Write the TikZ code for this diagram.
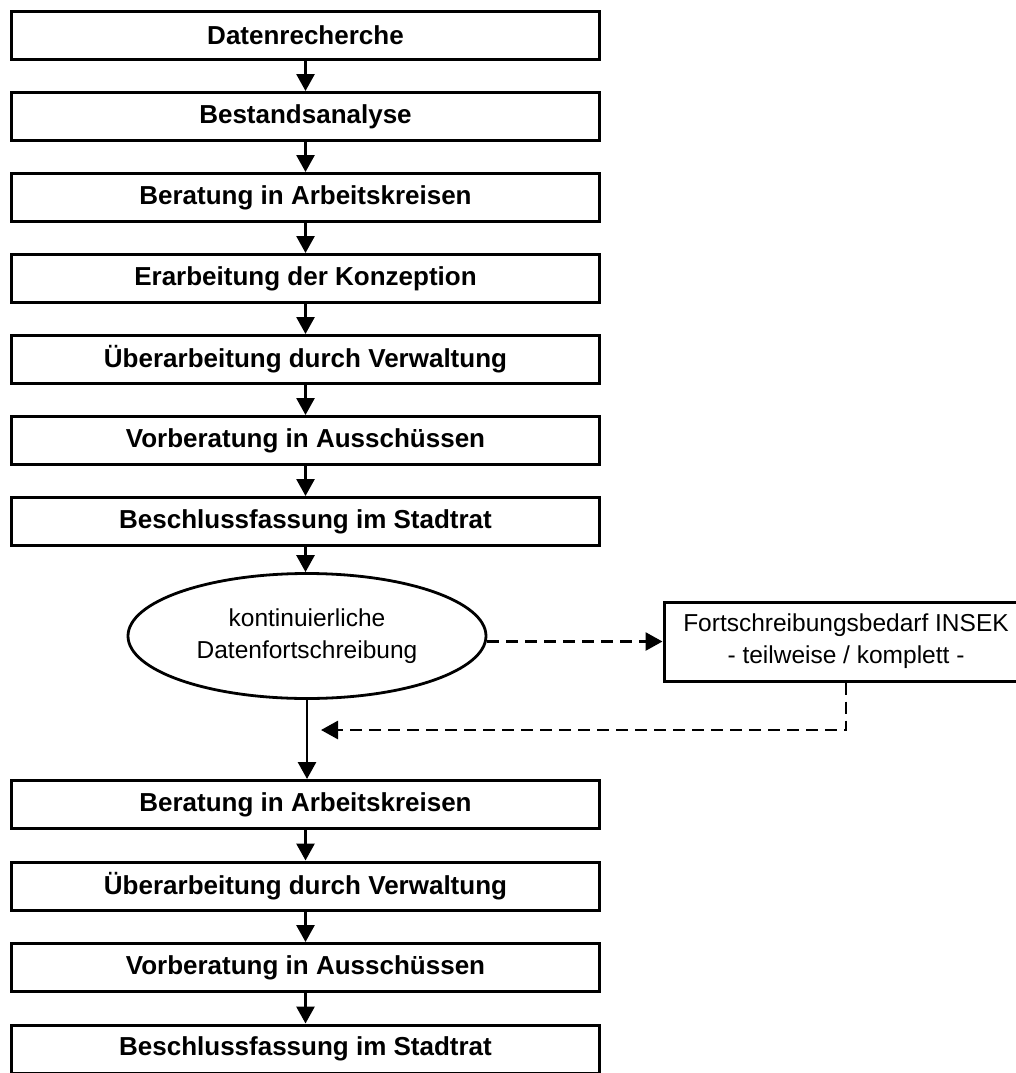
\documentclass[tikz,border=0pt]{standalone}
\usepackage{fontspec}
\setmainfont{Liberation Sans}
\usepackage{tikz}
\usetikzlibrary{arrows.meta, shapes.geometric}
\tikzset{>={Triangle[length=17pt,width=18pt]}}
\tikzset{
  stage/.style={draw, line width=3pt, minimum width=588pt, minimum height=48pt,
    inner sep=0pt, font=\fontsize{26}{31}\selectfont\bfseries},
  datanode/.style={draw, ellipse, line width=2.8pt, minimum width=358pt, minimum height=125pt,
    inner sep=0pt, align=center, font=\fontsize{24.5}{32}\selectfont},
  needbox/.style={draw, line width=3pt, minimum width=364pt, minimum height=79pt,
    inner sep=0pt, align=center, font=\fontsize{24.5}{32}\selectfont},
  flow/.style={->, line width=2.8pt},
  dflow/.style={->, line width=2.8pt, dash pattern=on 12pt off 7pt},
}

\begin{document}
\begin{tikzpicture}[x=1pt, y=-1pt]

    \useasboundingbox (0,0) rectangle (1016,1073);

    % first pass
    \foreach \i/\txt in {1/Datenrecherche, 2/Bestandsanalyse, 3/Beratung in Arbeitskreisen,
        4/Erarbeitung der Konzeption, 5/Überarbeitung durch Verwaltung,
        6/Vorberatung in Ausschüssen, 7/Beschlussfassung im Stadtrat}{
        \node[stage] (b\i) at (305.5, {35.5 + 81*(\i-1)}) {\txt};
    }
    \foreach \i [count=\j from 2] in {1, 2, ..., 6}{
        \draw[flow] (b\i.south) -- (b\j.north);
    }

    % update loop
    \node[datanode] (ell) at (307, 636) {kontinuierliche\\Datenfortschreibung};
    \node[needbox] (need) at (846, 641.5) {Fortschreibungsbedarf INSEK\\- teilweise / komplett -};
    \coordinate (back) at (321, 730);

    \draw[flow] (b7.south) -- (b7.south |- ell.north);
    \draw[dflow] (ell.east |- need.west) -- (need.west);
    \draw[dflow] (need.south) |- (back);

    % second pass
    \foreach \i/\txt in {1/Beratung in Arbeitskreisen, 2/Überarbeitung durch Verwaltung,
        3/Vorberatung in Ausschüssen, 4/Beschlussfassung im Stadtrat}{
        \node[stage] (c\i) at (305.5, {804.5 + 81.5*(\i-1)}) {\txt};
    }
    \foreach \i [count=\j from 2] in {1, 2, 3}{
        \draw[flow] (c\i.south) -- (c\j.north);
    }

    \draw[flow] (ell.south) -- (ell.south |- c1.north);

\end{tikzpicture}
\end{document}
